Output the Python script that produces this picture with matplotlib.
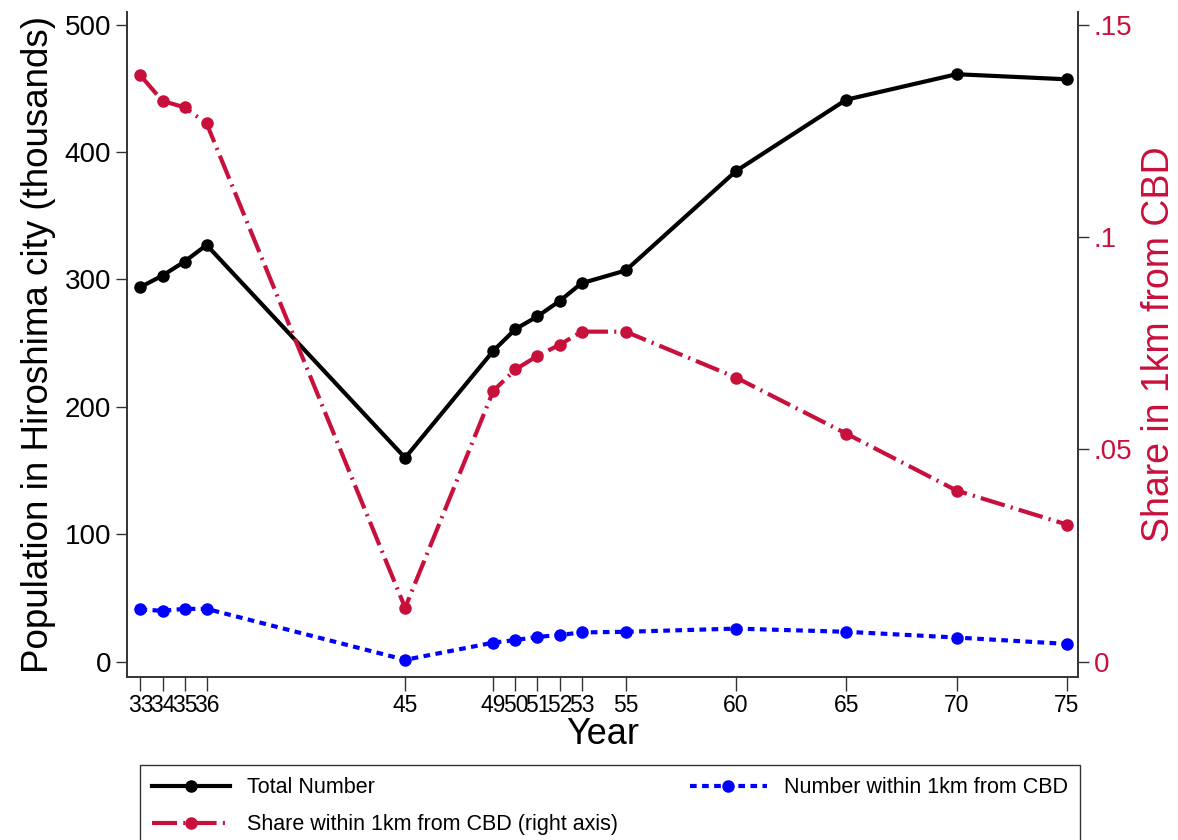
import matplotlib
matplotlib.use("Agg")
import matplotlib.pyplot as plt

plt.rcParams['font.family'] = ['Liberation Sans', 'DejaVu Sans']

# Hiroshima city population, total and within 1km of the CBD
years = [33, 34, 35, 36, 45, 49, 50, 51, 52, 53, 55, 60, 65, 70, 75]
total = [294, 303, 314, 327, 160, 244, 261, 271, 283, 297, 307, 385, 441, 461, 457]
within = [41, 40, 41.5, 41.5, 1.5, 15, 17, 19.5, 21, 23, 23.5, 26, 23.5, 19, 14]
share = [0.138, 0.132, 0.1305, 0.1267, 0.0127, 0.0638, 0.0688, 0.072, 0.0746,
         0.0777, 0.0777, 0.0669, 0.0537, 0.0403, 0.0323]

red = '#c8103c'
blue = '#0000ff'

fig = plt.figure(figsize=(11.78, 8.4), dpi=100)
ax = fig.add_axes([0.108, 0.194, 0.807, 0.792])
ax2 = ax.twinx()

l1, = ax.plot(years, total, color='black', lw=3, marker='o', ms=8, label='Total Number')
l3, = ax.plot(years, within, color=blue, lw=3, marker='o', ms=8,
              dashes=(1.6, 1.3), label='Number within 1km from CBD')
l2, = ax2.plot(years, share, color=red, lw=3, marker='o', ms=8,
               dashes=(6, 1.5, 0.5, 1.5), label='Share within 1km from CBD (right axis)')

ax.set_xlim(32.4, 75.5)
ax.set_ylim(-12, 510)
ax2.set_ylim(-12 * 0.0003, 510 * 0.0003)

ax.set_xticks(years)
ax.set_xticklabels([str(y) for y in years], fontsize=16.5)
ax.set_yticks([0, 100, 200, 300, 400, 500])
ax.tick_params(axis='y', labelsize=20, length=8, width=1, color='#333333')
ax.tick_params(axis='x', length=10, width=1, color='#333333', pad=2)

ax2.set_yticks([0, 0.05, 0.1, 0.15])
ax2.set_yticklabels(['0', '.05', '.1', '.15'])
ax2.tick_params(axis='y', labelsize=20, length=8, width=1, color='#333333', labelcolor=red)

ax.set_xlabel('Year', fontsize=26, labelpad=0)
ax.set_ylabel('Population in Hiroshima city (thousands)', fontsize=26.5, labelpad=6)
ax2.set_ylabel('Share in 1km from CBD', fontsize=27, color=red, labelpad=6)

for a in (ax, ax2):
    a.spines['top'].set_visible(False)
    for s in ('left', 'right', 'bottom'):
        a.spines[s].set_color('#333333')
        a.spines[s].set_linewidth(1.2)

leg = fig.legend([l1, l2, l3], [l1.get_label(), l2.get_label(), l3.get_label()],
                 ncol=2, loc='upper left', bbox_to_anchor=(0.119, 0.089, 0.798, 0.0),
                 mode='expand', fontsize=15.5, frameon=True, fancybox=False,
                 edgecolor='black', handlelength=3.6, handletextpad=0.8,
                 labelspacing=0.75, borderaxespad=0, borderpad=0.55)
leg.get_frame().set_linewidth(1)

fig.savefig('out.png', dpi=100)
